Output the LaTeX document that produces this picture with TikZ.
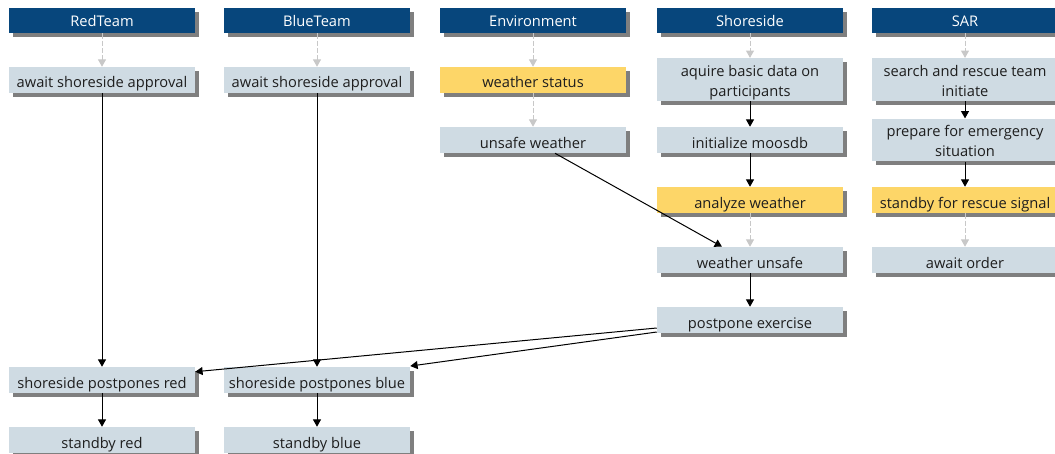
\documentclass[tikz,border=0pt]{standalone}
\usepackage{fontspec}
\setmainfont{Open Sans}
\usetikzlibrary{arrows.meta,shadows}

\definecolor{headc}{HTML}{07467C}
\definecolor{boxc}{HTML}{CFDBE3}
\definecolor{hotc}{HTML}{FDD668}
\definecolor{shadowc}{HTML}{7F7F7F}
\definecolor{dashc}{HTML}{C8C8C8}
\definecolor{textc}{HTML}{1E1E1E}

\tikzset{
  basebox/.style={minimum width=139.5pt, minimum height=19.5pt, inner sep=0pt,
    align=center, font=\fontsize{11}{15}\selectfont,
    text height=12pt, text depth=0pt,
    drop shadow={shadow xshift=2.7pt, shadow yshift=-3pt, fill=shadowc, opacity=1}},
  lane/.style={basebox, fill=headc, text=white, minimum height=18.75pt,
    text height=9.5pt},
  task/.style={basebox, fill=boxc, text=textc},
  hot/.style={basebox, fill=hotc, text=textc},
  tall/.style={minimum height=32pt, text height=24.8pt},
  flow/.style={draw=black, line width=0.75pt, -{Triangle[length=5.5pt,width=6pt]}},
  soft/.style={draw=dashc, line width=0.75pt, dash pattern=on 4pt off 1.5pt,
    -{Triangle[length=5.5pt,width=6pt]}}
}

\begin{document}
\begin{tikzpicture}[x=0.75pt,y=-0.75pt]
\useasboundingbox (0,0) rectangle (1055,453);

% lane headers
\node[lane] (hred) at (102,20.5) {RedTeam};
\node[lane] (hblue) at (317,20.5) {BlueTeam};
\node[lane] (henv) at (533,20.5) {Environment};
\node[lane] (hshore) at (750,20.5) {Shoreside};
\node[lane] (hsar) at (965,20.5) {SAR};

% RedTeam
\node[task] (rwait) at (102,80) {await shoreside approval};
\node[task] (rpost) at (102,380) {shoreside postpones red};
\node[task] (rstby) at (102,440) {standby red};

% BlueTeam
\node[task] (bwait) at (317,80) {await shoreside approval};
\node[task] (bpost) at (317,380) {shoreside postpones blue};
\node[task] (bstby) at (317,440) {standby blue};

% Environment
\node[hot] (wstat) at (533,80) {weather status};
\node[task] (uwx) at (533,140) {unsafe weather};

% Shoreside
\node[task,tall] (acq) at (750,79.5) {aquire basic data on\\participants};
\node[task] (init) at (750,140) {initialize moosdb};
\node[hot] (anwx) at (750,200) {analyze weather};
\node[task] (wxun) at (750,260) {weather unsafe};
\node[task] (post) at (750,320) {postpone exercise};

% SAR
\node[task,tall] (sar1) at (965,79.5) {search and rescue team\\initiate};
\node[task,tall] (sar2) at (965,140) {prepare for emergency\\situation};
\node[hot] (sar3) at (965,200) {standby for rescue signal};
\node[task] (sar4) at (965,260) {await order};

% lane entries
\draw[soft] (hred.south) -- (rwait.north);
\draw[soft] (hblue.south) -- (bwait.north);
\draw[soft] (henv.south) -- (wstat.north);
\draw[soft] (hshore.south) -- (acq.north);
\draw[soft] (hsar.south) -- (sar1.north);

% Environment flow
\draw[soft] (wstat.south) -- (uwx.north);
\draw[flow] ([xshift=16.5pt]uwx.south) -- ([xshift=-21pt]wxun.north);

% Shoreside flow
\draw[flow] (acq.south) -- (init.north);
\draw[flow] (init.south) -- (anwx.north);
\draw[soft] (anwx.south) -- (wxun.north);
\draw[flow] (wxun.south) -- (post.north);
\draw[flow] ([yshift=-6pt]post.west) -- ([yshift=-3.75pt]rpost.north east);
\draw[flow] ([yshift=-9pt]post.west) -- ([yshift=0.5pt]bpost.north east);

% SAR flow
\draw[flow] (sar1.south) -- (sar2.north);
\draw[flow] (sar2.south) -- (sar3.north);
\draw[soft] (sar3.south) -- (sar4.north);

% team flows
\draw[flow] (rwait.south) -- (rpost.north);
\draw[flow] (rpost.south) -- (rstby.north);
\draw[flow] (bwait.south) -- (bpost.north);
\draw[flow] (bpost.south) -- (bstby.north);
\end{tikzpicture}
\end{document}
